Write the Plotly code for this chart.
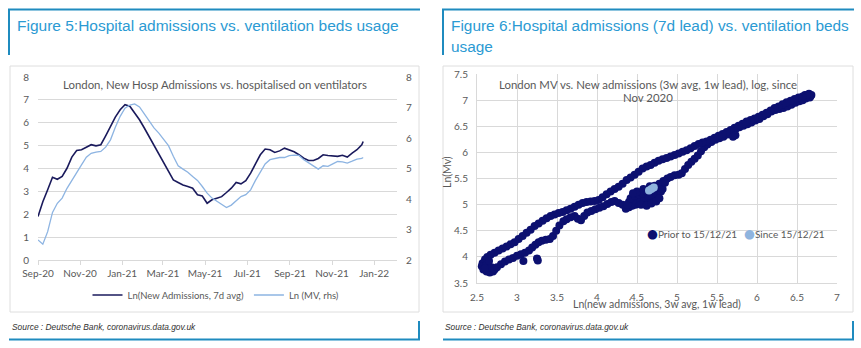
import plotly.graph_objects as go

# ---------------- data: Figure 5 (weekly readings) ----------------
dates = [
    "2020-09-01", "2020-09-08", "2020-09-15", "2020-09-22", "2020-09-29", "2020-10-06", "2020-10-13",
    "2020-10-20", "2020-10-27", "2020-11-03", "2020-11-10", "2020-11-17", "2020-11-24", "2020-12-01",
    "2020-12-08", "2020-12-15", "2020-12-22", "2020-12-29", "2021-01-05", "2021-01-12", "2021-01-19",
    "2021-01-26", "2021-02-02", "2021-02-09", "2021-02-16", "2021-02-23", "2021-03-02", "2021-03-09",
    "2021-03-16", "2021-03-23", "2021-03-30", "2021-04-06", "2021-04-13", "2021-04-20", "2021-04-27",
    "2021-05-04", "2021-05-11", "2021-05-18", "2021-05-25", "2021-06-01", "2021-06-08", "2021-06-15",
    "2021-06-22", "2021-06-29", "2021-07-06", "2021-07-13", "2021-07-20", "2021-07-27", "2021-08-03",
    "2021-08-10", "2021-08-17", "2021-08-24", "2021-08-31", "2021-09-07", "2021-09-14", "2021-09-21",
    "2021-09-28", "2021-10-05", "2021-10-12", "2021-10-19", "2021-10-26", "2021-11-02", "2021-11-09",
    "2021-11-16", "2021-11-23", "2021-11-30", "2021-12-07", "2021-12-14", "2021-12-16",
]
ln_admissions = [
    1.90, 2.55, 3.07, 3.62, 3.53, 3.65, 4.01, 4.50, 4.79, 4.82, 4.93, 5.04, 4.99, 5.04,
    5.43, 5.84, 6.25, 6.57, 6.79, 6.72, 6.42, 6.13, 5.77, 5.40, 4.99, 4.60, 4.23, 3.87,
    3.50, 3.39, 3.28, 3.21, 3.14, 2.85, 2.80, 2.48, 2.63, 2.70, 2.77, 2.95, 3.14, 3.39,
    3.33, 3.47, 3.80, 4.20, 4.60, 4.85, 4.82, 4.70, 4.77, 4.89, 4.82, 4.73, 4.60, 4.45,
    4.35, 4.35, 4.44, 4.60, 4.57, 4.55, 4.53, 4.58, 4.50, 4.67, 4.82, 5.04, 5.18,
]
ln_mv = [
    2.66, 2.52, 2.93, 3.56, 3.86, 4.03, 4.35, 4.61, 4.90, 5.12, 5.37, 5.50, 5.54, 5.56,
    5.70, 5.94, 6.35, 6.71, 6.98, 7.08, 7.12, 7.02, 6.79, 6.57, 6.33, 6.16, 5.94, 5.75,
    5.40, 5.09, 4.98, 4.88, 4.74, 4.61, 4.41, 4.19, 4.03, 3.92, 3.84, 3.72, 3.80, 3.95,
    4.08, 4.14, 4.30, 4.61, 4.90, 5.15, 5.29, 5.32, 5.36, 5.36, 5.42, 5.44, 5.43, 5.29,
    5.18, 5.09, 4.98, 5.09, 5.07, 5.15, 5.23, 5.22, 5.18, 5.24, 5.31, 5.33, 5.36,
]
tick_dates = ["2020-09-01", "2020-11-01", "2021-01-01", "2021-03-01", "2021-05-01",
              "2021-07-01", "2021-09-01", "2021-11-01", "2022-01-01"]
tick_labels = ["Sep-20", "Nov-20", "Jan-21", "Mar-21", "May-21", "Jul-21", "Sep-21", "Nov-21", "Jan-22"]

# ---------------- data: Figure 6 (scatter readings) ----------------
rise_winter_x = [4.72, 4.78, 4.83, 4.88, 4.92, 4.97, 5.02, 5.06, 5.10, 5.14, 5.18, 5.22, 5.26, 5.30,
                 5.34, 5.38, 5.43, 5.48, 5.53, 5.58, 5.63, 5.68, 5.73, 5.78, 5.83, 5.88, 5.93, 5.98,
                 6.03, 6.08, 6.13, 6.18, 6.23, 6.28, 6.33, 6.38, 6.43, 6.48, 6.53, 6.57, 6.61, 6.64, 6.67]
rise_winter_y = [5.36, 5.40, 5.45, 5.50, 5.53, 5.56, 5.57, 5.60, 5.68, 5.76, 5.82, 5.88, 5.94, 6.02,
                 6.10, 6.15, 6.20, 6.24, 6.27, 6.30, 6.34, 6.40, 6.44, 6.48, 6.51, 6.54, 6.57, 6.61,
                 6.64, 6.69, 6.73, 6.78, 6.81, 6.83, 6.85, 6.88, 6.91, 6.95, 6.98, 7.00, 7.03, 7.06, 7.08]
peak_x = [6.60, 6.65, 6.68, 6.66, 6.62]
peak_y = [7.10, 7.12, 7.10, 7.05, 7.08]
decline_x = [6.62, 6.57, 6.52, 6.47, 6.42, 6.37, 6.32, 6.27, 6.22, 6.17, 6.12, 6.07, 6.02, 5.97,
             5.92, 5.87, 5.82, 5.77, 5.72, 5.67, 5.62, 5.57, 5.52, 5.47, 5.42, 5.37, 5.32, 5.27,
             5.22, 5.17, 5.12, 5.07, 5.02, 4.97, 4.92, 4.87, 4.82, 4.77, 4.72, 4.67, 4.62, 4.57,
             4.52, 4.47, 4.42, 4.37, 4.32, 4.27, 4.22, 4.17, 4.12, 4.07, 4.02, 3.97, 3.92, 3.87,
             3.82, 3.77, 3.72, 3.67, 3.62, 3.57, 3.52, 3.47, 3.42, 3.37, 3.32, 3.27, 3.22, 3.17,
             3.12, 3.07, 3.02, 2.97, 2.92, 2.87, 2.82, 2.77, 2.72, 2.67, 2.63, 5.73, 5.70]
decline_y = [7.10, 7.07, 7.05, 7.02, 6.99, 6.96, 6.92, 6.88, 6.85, 6.80, 6.76, 6.72, 6.68, 6.65,
             6.62, 6.59, 6.55, 6.51, 6.47, 6.43, 6.39, 6.35, 6.32, 6.28, 6.24, 6.21, 6.19, 6.16,
             6.12, 6.08, 6.04, 6.01, 5.98, 5.95, 5.92, 5.89, 5.87, 5.84, 5.80, 5.76, 5.73, 5.69,
             5.63, 5.57, 5.52, 5.47, 5.40, 5.34, 5.30, 5.25, 5.20, 5.14, 5.09, 5.07, 5.06, 5.05,
             5.03, 5.00, 4.96, 4.92, 4.89, 4.86, 4.84, 4.81, 4.78, 4.74, 4.69, 4.64, 4.59, 4.52,
             4.46, 4.40, 4.34, 4.28, 4.24, 4.20, 4.16, 4.12, 4.08, 4.04, 4.00, 6.33, 6.30]
trough_x = [2.60, 2.57, 2.56, 2.58, 2.62, 2.66, 2.70, 2.62, 2.68, 2.72, 2.65, 2.60]
trough_y = [3.95, 3.88, 3.82, 3.76, 3.72, 3.70, 3.72, 3.85, 3.80, 3.76, 3.92, 3.78]
rise_summer_x = [2.75, 2.80, 2.85, 2.90, 2.95, 3.00, 3.05, 3.10, 3.15, 3.19, 3.23, 3.27, 3.31, 3.36,
                 3.41, 3.45, 3.49, 3.53, 3.58, 3.62, 3.67, 3.72, 3.76, 3.80, 3.84, 3.88, 3.93, 3.98,
                 4.03, 4.08, 4.13, 4.18, 4.22, 4.27, 4.32, 3.08, 3.25, 3.26]
rise_summer_y = [3.80, 3.86, 3.91, 3.95, 3.98, 4.02, 4.05, 4.08, 4.12, 4.18, 4.23, 4.28, 4.31, 4.33,
                 4.34, 4.40, 4.50, 4.60, 4.68, 4.72, 4.76, 4.78, 4.73, 4.70, 4.78, 4.85, 4.88, 4.91,
                 4.94, 4.97, 5.01, 5.05, 5.07, 5.03, 5.00, 3.92, 3.97, 3.93]
plateau_x = [4.36, 4.40, 4.44, 4.48, 4.52, 4.56, 4.60, 4.64, 4.68, 4.72, 4.76, 4.80, 4.70, 4.65,
             4.60, 4.55, 4.50, 4.45, 4.40, 4.38, 4.42, 4.47, 4.52, 4.57, 4.62, 4.67, 4.72, 4.76,
             4.80, 4.55, 4.62, 4.68, 4.74, 4.78, 4.82, 4.85, 4.50, 4.45, 4.58, 4.66]
plateau_y = [4.92, 4.95, 4.98, 5.00, 5.02, 5.04, 5.06, 5.08, 5.10, 5.14, 5.20, 5.25, 5.22, 5.18,
             5.15, 5.12, 5.10, 5.08, 5.05, 5.00, 5.12, 5.17, 5.20, 5.22, 5.25, 5.28, 5.30, 5.33,
             5.36, 5.00, 4.98, 5.02, 5.06, 5.12, 5.30, 5.42, 5.25, 5.22, 5.30, 5.35]
since_x = [4.65, 4.68, 4.71]
since_y = [5.27, 5.30, 5.33]

prior_x = rise_winter_x + peak_x + decline_x + trough_x + rise_summer_x + plateau_x
prior_y = rise_winter_y + peak_y + decline_y + trough_y + rise_summer_y + plateau_y

# ---------------- styling ----------------
W, H = 861, 348
DB_BLUE = "#1f8bbf"
TITLE_BLUE = "#2b9ad3"
GRID = "#d9d9d9"
TXT = "#595959"
DARK = "#1a1a5c"
LIGHT = "#8db4e2"
NAVY = "#0c1070"
SINCE = "#8fb4de"
CF = "Lato, Liberation Sans, sans-serif"
TF = "Liberation Sans, Arial, sans-serif"


def px(x):
    return x / W


def py(y):
    return 1 - y / H


fig = go.Figure()
fig.add_trace(go.Scatter(x=dates, y=ln_admissions, mode="lines", name="Ln(New Admissions, 7d avg)",
                         line=dict(color=DARK, width=1.6), xaxis="x", yaxis="y"))
fig.add_trace(go.Scatter(x=dates, y=ln_mv, mode="lines", name="Ln (MV, rhs)",
                         line=dict(color=LIGHT, width=1.3), xaxis="x", yaxis="y2"))
fig.add_trace(go.Scatter(x=prior_x, y=prior_y, mode="markers", name="Prior to 15/12/21",
                         marker=dict(size=8, color=NAVY), xaxis="x2", yaxis="y3", showlegend=False))
fig.add_trace(go.Scatter(x=since_x, y=since_y, mode="markers", name="Since 15/12/21",
                         marker=dict(size=8, color=SINCE), xaxis="x2", yaxis="y3", showlegend=False))

shapes = []
# panel boxes
for x0, x1 in [(10, 419), (443, 853)]:
    shapes.append(dict(type="rect", xref="paper", yref="paper", x0=px(x0), x1=px(x1), y0=py(312), y1=py(66),
                       line=dict(color="#dedede", width=1), fillcolor="rgba(0,0,0,0)", layer="below"))
# DB blue frame lines
for (lx, rx) in [(8, 420), (442, 854)]:
    shapes.append(dict(type="line", xref="paper", yref="paper", x0=px(lx), x1=px(rx), y0=py(9.5), y1=py(9.5),
                       line=dict(color=DB_BLUE, width=2)))
    shapes.append(dict(type="line", xref="paper", yref="paper", x0=px(lx + 1), x1=px(lx + 1), y0=py(9.5), y1=py(55),
                       line=dict(color=DB_BLUE, width=2)))
    shapes.append(dict(type="line", xref="paper", yref="paper", x0=px(lx + 1), x1=px(rx), y0=py(339.5), y1=py(339.5),
                       line=dict(color=DB_BLUE, width=2)))
    shapes.append(dict(type="line", xref="paper", yref="paper", x0=px(rx - 1), x1=px(rx - 1), y0=py(321), y1=py(340),
                       line=dict(color=DB_BLUE, width=2)))

ann = []


def note(x, y, text, size, color=TXT, family=CF, xanchor="center", italic=False, angle=0):
    ann.append(dict(xref="paper", yref="paper", x=px(x), y=py(y), text=("<i>%s</i>" % text) if italic else text,
                    showarrow=False, xanchor=xanchor, yanchor="middle", textangle=angle,
                    font=dict(size=size, color=color, family=family)))


note(15, 25, "Figure 5:Hospital admissions vs. ventilation beds usage", 15.5, TITLE_BLUE, TF, "left")
note(449, 25, "Figure 6:Hospital admissions (7d lead) vs. ventilation beds", 15.4, TITLE_BLUE, TF, "left")
note(449, 46, "usage", 15.4, TITLE_BLUE, TF, "left")
note(215, 84, "London, New Hosp Admissions vs. hospitalised on ventilators", 11.4)
note(648, 84, "London MV vs. New admissions (3w avg, 1w lead), log, since", 11.4)
note(648, 98, "Nov 2020", 11.4)
note(657, 304, "Ln(new admissions, 3w avg, 1w lead)", 10.5)
note(447, 172, "Ln(Mv)", 10.5, angle=-90)
note(10, 327, "Source : Deutsche Bank, coronavirus.data.gov.uk", 8.4, "#333333", TF, "left", italic=True)
note(443, 327, "Source : Deutsche Bank, coronavirus.data.gov.uk", 8.4, "#333333", TF, "left", italic=True)
# scatter legend entries
note(645, 233, "<span style='color:%s;font-size:12.5px;font-family:DejaVu Sans'>●</span>Prior to 15/12/21" % NAVY,
     10, xanchor="left")
note(742, 233, "<span style='color:%s;font-size:12.5px;font-family:DejaVu Sans'>●</span>Since 15/12/21" % SINCE,
     10, xanchor="left")

tickfont = dict(size=10, color=TXT, family=CF)
fig.update_layout(
    width=W, height=H, margin=dict(l=0, r=0, t=0, b=0, autoexpand=False),
    paper_bgcolor="white", plot_bgcolor="white",
    shapes=shapes, annotations=ann, hovermode=False,
    xaxis=dict(domain=[px(38), px(397)], type="date", range=["2020-09-01", "2022-02-03"],
               tickvals=tick_dates, ticktext=tick_labels, showgrid=False, zeroline=False,
               showline=True, linecolor=GRID, ticks="outside", ticklen=4, tickcolor=GRID,
               tickfont=tickfont, anchor="y", automargin=False),
    yaxis=dict(domain=[py(260), py(77)], range=[0, 8], dtick=1, gridcolor=GRID, zeroline=False,
               showline=False, tickfont=tickfont, ticklabelstandoff=8, anchor="x", automargin=False),
    yaxis2=dict(overlaying="y", side="right", range=[2, 8], dtick=1, showgrid=False, zeroline=False,
                tickfont=tickfont, ticklabelstandoff=8, anchor="x", automargin=False),
    xaxis2=dict(domain=[px(477), px(837)], range=[2.5, 7], dtick=0.5, gridcolor=GRID, zeroline=False,
                showline=True, linecolor=GRID, tickfont=tickfont, ticklabelstandoff=5, anchor="y3",
                automargin=False),
    yaxis3=dict(domain=[py(283), py(74)], range=[3.5, 7.5], dtick=0.5, gridcolor=GRID, zeroline=False,
                showline=True, linecolor=GRID, tickfont=tickfont, ticklabelstandoff=6, anchor="x2",
                automargin=False),
    showlegend=True,
    legend=dict(orientation="h", x=px(216), y=py(295), xanchor="center", yanchor="middle",
                font=dict(size=9.5, color=TXT, family=CF), bgcolor="rgba(0,0,0,0)"),
)

fig.write_html("out.html")
